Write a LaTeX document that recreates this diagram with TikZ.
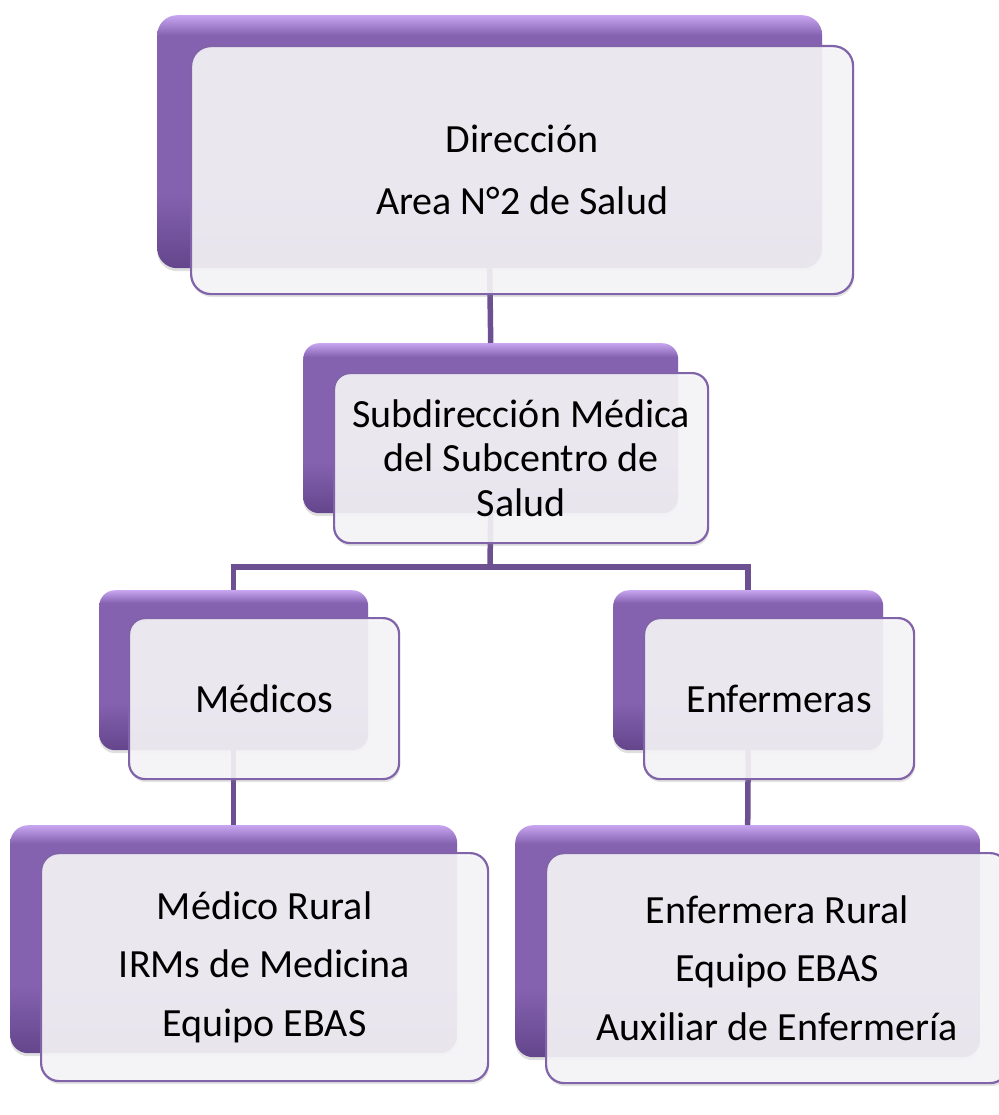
\documentclass[tikz,border=0pt]{standalone}
\usepackage{fontspec}
\setmainfont{Carlito}
\usetikzlibrary{shadows}
\definecolor{bodyP}{RGB}{133,98,176}
\definecolor{darkP}{RGB}{100,70,140}
\definecolor{lightP}{RGB}{200,165,240}
\definecolor{lineP}{RGB}{108,80,146}
\definecolor{edgeP}{RGB}{128,99,168}
\definecolor{frontF}{RGB}{246,245,248}
\pgfdeclareverticalshading{backshade}{100bp}{color(0bp)=(darkP); color(25bp)=(darkP); color(40bp)=(bodyP); color(71bp)=(bodyP); color(75bp)=(lightP); color(100bp)=(lightP)}
\tikzset{
  backbox/.style={shading=backshade, rounded corners=#1, inner sep=0pt, anchor=north west,
    drop shadow={opacity=0.25, shadow xshift=0pt, shadow yshift=-3pt}},
  backbox/.default=18pt,
  frontbox/.style={draw=edgeP, line width=2.2pt, fill=frontF, fill opacity=0.9, text opacity=1,
    rounded corners=#1, inner sep=0pt, anchor=north west, align=center,
    drop shadow={opacity=0.22, shadow xshift=1pt, shadow yshift=-3pt}},
  frontbox/.default=18pt,
  conn/.style={draw=lineP, line width=5.5pt},
}
\begin{document}
\begin{tikzpicture}[x=1pt,y=-1pt]
\useasboundingbox (0,0) rectangle (998,1115);
% back boxes
\node[backbox=20pt, minimum width=665pt, minimum height=253pt] (b1) at (157,15) {};
\node[backbox=16pt, minimum width=375pt, minimum height=170pt] (b2) at (303,343) {};
\node[backbox=16pt, minimum width=269pt, minimum height=160pt] (b3) at (99,590) {};
\node[backbox=16pt, minimum width=270pt, minimum height=160pt] (b4) at (613,590) {};
\node[backbox=18pt, minimum width=447pt, minimum height=228pt] (b5) at (10,825) {};
\node[backbox=18pt, minimum width=465pt, minimum height=232pt] (b6) at (515,825) {};
% connectors
\coordinate (bus) at (490,567);
\draw[conn] (b1.south) -- (b2.north);
\draw[conn] (b2.south) -- (bus);
\draw[conn] (b3.north) |- (bus) -| (b4.north);
\draw[conn] (b3.south) -- (b5.north);
\draw[conn] (b4.south) -- (b6.north);
% front boxes
\node[frontbox=20pt, minimum width=662pt, minimum height=248pt, font=\fontsize{40}{62}\selectfont] (f1) at (190,45) {Dirección\\Area N°2 de Salud};
\node[frontbox=16pt, minimum width=374pt, minimum height=170pt, font=\fontsize{40}{44.5}\selectfont] (f2) at (333,372) {Subdirección Médica\\del Subcentro de\\Salud};
\node[frontbox=16pt, minimum width=270pt, minimum height=161pt, font=\fontsize{40}{47}\selectfont] (f3) at (128,617) {Médicos};
\node[frontbox=16pt, minimum width=270pt, minimum height=161pt, font=\fontsize{40}{47}\selectfont] (f4) at (643,617) {Enfermeras};
\node[frontbox=18pt, minimum width=447pt, minimum height=228pt, font=\fontsize{40}{58.5}\selectfont] (f5) at (40,852) {Médico Rural\\IRMs de Medicina\\Equipo EBAS};
\node[frontbox=18pt, minimum width=462pt, minimum height=230pt, font=\fontsize{40}{58.5}\selectfont] (f6) at (545,852) {Enfermera Rural\\Equipo EBAS\\Auxiliar de Enfermería};
\end{tikzpicture}
\end{document}
